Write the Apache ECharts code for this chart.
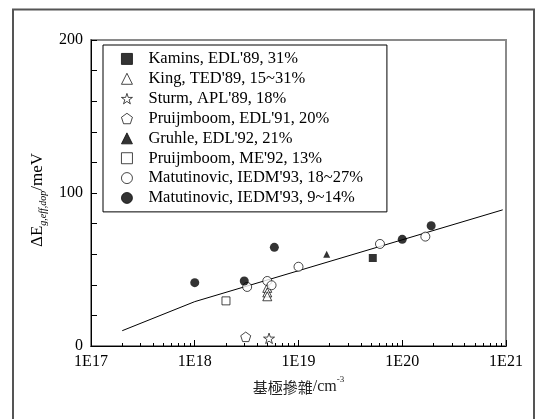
<!DOCTYPE html>
<html>
<head>
<meta charset="utf-8">
<script src="https://cdn.jsdelivr.net/npm/echarts@6/dist/echarts.min.js"></script>
<style>
  html, body { margin: 0; padding: 0; background: #fff; }
  #chart { width: 542px; height: 419px; }
</style>
</head>
<body>
<div id="chart"></div>
<script>
// Band-gap narrowing vs. base doping, several published data sets
const seriesNames = [
  "Kamins, EDL'89, 31%",
  "King, TED'89, 15~31%",
  "Sturm, APL'89, 18%",
  "Pruijmboom, EDL'91, 20%",
  "Gruhle, EDL'92, 21%",
  "Pruijmboom, ME'92, 13%",
  "Matutinovic, IEDM'93, 18~27%",
  "Matutinovic, IEDM'93, 9~14%"
];

// [doping (cm^-3), ΔE (meV)]
const kamins      = [[5.2e19, 57.5]];
const king        = [[5.0e18, 38], [5.0e18, 35], [5.0e18, 32.5]];
const sturm       = [[5.2e18, 5]];
const pruijEDL    = [[3.1e18, 6]];
const gruhle      = [[1.87e19, 60]];
const pruijME     = [[2.0e18, 29.5]];
const matOpen     = [[3.2e18, 38.6], [5.0e18, 42.5], [5.5e18, 39.7], [1.0e19, 51.8],
                     [6.1e19, 66.7], [1.67e20, 71.5]];
const matFilled   = [[1.0e18, 41.4], [3.0e18, 42.5], [5.85e18, 64.5], [1.0e20, 69.7],
                     [1.9e20, 78.6]];
const modelCurve  = [[2e17, 10], [1e18, 29], [9.3e20, 89]];

const yTicks = [0, 100, 200];
const xDecades = [1e17, 1e18, 1e19, 1e20, 1e21];

// keep the end ticks a hair inside the axis extent so rounding never drops them
const xMajor = xDecades.map((v, i) => (i === xDecades.length - 1 ? v * 0.9999999 : v));
// minor ticks at 2..9 within each decade
const xMinor = [];
for (let i = 0; i < xDecades.length - 1; i++) {
  for (let m = 2; m <= 9; m++) xMinor.push(xDecades[i] * m);
}

const starPath = 'path://M50,0 L61.8,35.5 L99,35.5 L69,57.5 L80.5,93 L50,71 L19.5,93 L31,57.5 L1,35.5 L38.2,35.5 Z';
const pentagonPath = 'path://M50,2 L97.6,36.6 L79.4,92.6 L20.6,92.6 L2.4,36.6 Z';

const serif = '"Liberation Serif", "DejaVu Serif", serif';
const openStyle = { color: '#fff', borderColor: '#000', borderWidth: 0.9 };
const fillStyle = { color: '#000', borderColor: '#000', borderWidth: 0 };

function scatter(name, data, symbol, size, style) {
  return {
    type: 'scatter', name, data, symbol, symbolSize: size,
    symbolKeepAspect: true, itemStyle: style, z: 3
  };
}

const chart = echarts.init(document.getElementById('chart'), null, { renderer: 'canvas' });

chart.setOption({
  animation: false,
  backgroundColor: '#fff',
  textStyle: { fontFamily: serif, color: '#000' },
  graphic: [{
    type: 'rect',
    shape: { x: 13, y: 9.5, width: 521, height: 430 },
    style: { fill: 'none', stroke: '#555', lineWidth: 2 },
    silent: true, z: 0
  }],
  grid: {
    left: 91, right: 36, top: 40, bottom: 73,
    show: true, borderColor: '#8a8a8a', borderWidth: 2, backgroundColor: 'transparent'
  },
  legend: {
    orient: 'vertical',
    left: 103, top: 45,
    data: seriesNames,
    itemWidth: 11, itemHeight: 11,
    itemGap: 0,
    padding: [4, 24, 4, 18],
    borderColor: '#000', borderWidth: 1,
    backgroundColor: '#fff',
    itemStyle: { borderWidth: 0.9 },
    textStyle: { fontFamily: serif, fontSize: 16.5, color: '#000', lineHeight: 19.86, padding: [0, 0, 0, 11] },
    selectedMode: false
  },
  xAxis: [{
    type: 'log', min: 1e17, max: 1e21, logBase: 10,
    name: '{a|基極摻雜}{b|/cm}{c|-3}',
    nameLocation: 'middle', nameGap: 24,
    nameTextStyle: {
      rich: {
        a: { fontFamily: '"Noto Sans CJK TC"', fontSize: 15, color: '#222', lineHeight: 20, verticalAlign: 'bottom' },
        b: { fontFamily: serif, fontSize: 16, color: '#222', lineHeight: 20, verticalAlign: 'bottom' },
        c: { fontFamily: serif, fontSize: 9, color: '#222', lineHeight: 20, verticalAlign: 'top' }
      }
    },
    axisLine: { show: true, lineStyle: { color: '#000', width: 1 } },
    axisTick: { show: true, inside: true, length: 6, customValues: xMajor, lineStyle: { color: '#000' } },
    axisLabel: {
      customValues: xMajor, margin: 8, showMaxLabel: true, showMinLabel: true,
      fontFamily: serif, fontSize: 16, color: '#000',
      formatter: v => '1E' + Math.round(Math.log10(v))
    },
    splitLine: { show: false }
  }, {
    type: 'log', min: 1e17, max: 1e21, logBase: 10, position: 'bottom',
    axisLine: { show: false },
    axisTick: { show: true, inside: true, length: 3, customValues: xMinor, lineStyle: { color: '#000' } },
    axisLabel: { show: false },
    splitLine: { show: false }
  }],
  yAxis: {
    type: 'value', min: 0, max: 200, interval: 20,
    name: '{a|ΔE}{b|g,eff,dop}{a|/meV}',
    nameLocation: 'middle', nameGap: 39, nameRotate: 90,
    nameTextStyle: {
      padding: [0, 14, 0, 0],
      rich: {
        a: { fontFamily: serif, fontSize: 17, color: '#000', lineHeight: 22, verticalAlign: 'middle' },
        b: { fontFamily: serif, fontSize: 10, fontStyle: 'italic', color: '#000', lineHeight: 22, verticalAlign: 'bottom' }
      }
    },
    axisLine: { show: true, lineStyle: { color: '#000', width: 1 } },
    axisTick: { show: true, inside: true, length: 6, lineStyle: { color: '#000' } },
    axisLabel: {
      margin: 8, fontFamily: serif, fontSize: 16, color: '#000',
      formatter: v => (yTicks.indexOf(v) >= 0 ? String(v) : '')
    },
    splitLine: { show: false }
  },
  series: [
    scatter(seriesNames[0], kamins, 'rect', 8, fillStyle),
    scatter(seriesNames[1], king, 'triangle', 9, openStyle),
    scatter(seriesNames[2], sturm, starPath, 11, openStyle),
    scatter(seriesNames[3], pruijEDL, pentagonPath, 10, openStyle),
    scatter(seriesNames[4], gruhle, 'triangle', 7, fillStyle),
    scatter(seriesNames[5], pruijME, 'rect', 8, openStyle),
    scatter(seriesNames[6], matOpen, 'circle', 9, openStyle),
    scatter(seriesNames[7], matFilled, 'circle', 9, fillStyle),
    {
      type: 'line', name: 'model', data: modelCurve,
      symbol: 'none', lineStyle: { color: '#000', width: 1 }, z: 2,
      silent: true
    }
  ]
});
</script>
</body>
</html>
